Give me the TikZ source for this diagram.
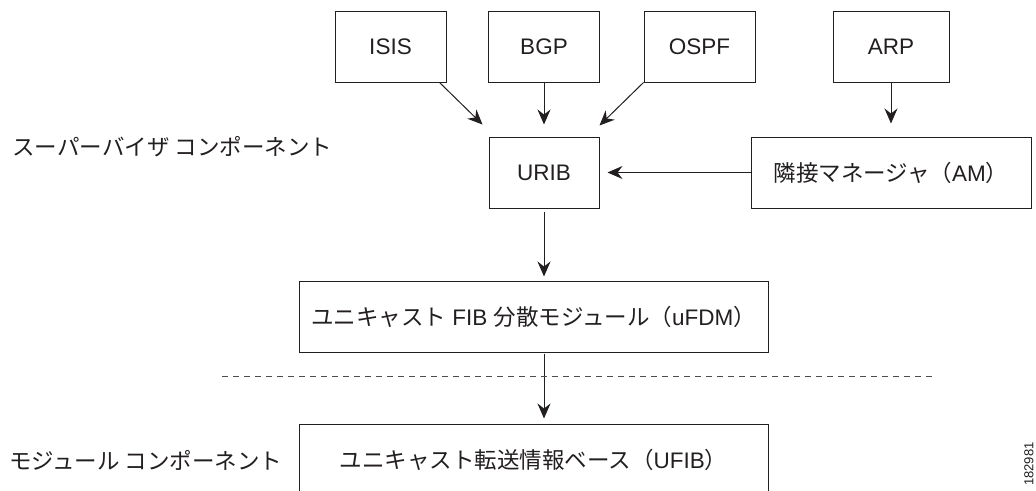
\documentclass[tikz,border=0pt]{standalone}
\usepackage{fontspec}
\setmainfont{Liberation Sans}
\newfontfamily\jp{Noto Sans CJK JP}
\usetikzlibrary{arrows.meta}
\definecolor{ink}{HTML}{231F20}
\newcommand{\drawbox}{\node[draw,rectangle,minimum width=111,minimum height=71]}
\newcommand{\drawwide}{\node[draw,rectangle,minimum width=469,minimum height=71]}
\newcommand{\drawlabel}{\node[inner sep=0]}

\begin{document}
\begin{tikzpicture}[x=1pt, y=-1pt, line width=1pt, draw=ink, text=ink,
  >={Stealth[length=15pt,width=13pt,inset=5pt]},
  every node/.style={font=\fontsize{22.5}{27}\selectfont}]
\path[use as bounding box, fill=white] (0,0) rectangle (1036,490);
%routing sources feeding URIB
\drawbox (isis) at (390.5,46.5) {ISIS};
\drawbox (bgp) at (544,46.5) {BGP};
\drawbox (ospf) at (699.5,46.5) {OSPF};
\drawbox[minimum width=116] (arp) at (891,46.5) {ARP};
\drawbox[minimum width=110] (urib) at (544,172.5) {URIB};
\drawbox[minimum width=280] (am) at (891,172.5) {{\jp 隣接マネージャ（}AM{\jp ）}};
\drawwide (ufdm) at (533.5,316.5) {{\jp ユニキャスト} FIB {\jp 分散モジュール（}uFDM{\jp ）}};
\drawwide (ufib) at (533.5,459.5) {{\jp ユニキャスト転送情報ベース（}UFIB{\jp ）}};

\drawlabel[anchor=west] (sup) at (12,147) {\jp スーパーバイザ コンポーネント};
\drawlabel[anchor=east] (mod) at (283,460) {\jp モジュール コンポーネント};
\drawlabel[rotate=90, font=\fontsize{13}{15}\selectfont] (fig) at (1029,464) {182981};

\draw[->] ([xshift=-7pt]isis.south east) to ([xshift=-6pt,yshift=12pt]urib.north west);
\draw[->] (bgp.south) to ([yshift=12pt]urib.north);
\draw[->] (ospf.south west) to ([yshift=11pt]urib.north east);
\draw[->] (arp.south) to ([yshift=13pt]am.north);
\draw[->] (am.west) to ([xshift=8pt]urib.east);
\draw[->, shorten <=3pt, shorten >=4pt] (urib.south) to (urib.south |- ufdm.north);
\draw[->, shorten <=1pt, shorten >=5pt] (urib.south |- ufdm.south) to (urib.south |- ufib.north);

\draw[dashed, dash pattern=on 6pt off 5pt, line width=0.8pt, draw=ink!80] (222,376) -- (935,376);
\end{tikzpicture}
\end{document}
